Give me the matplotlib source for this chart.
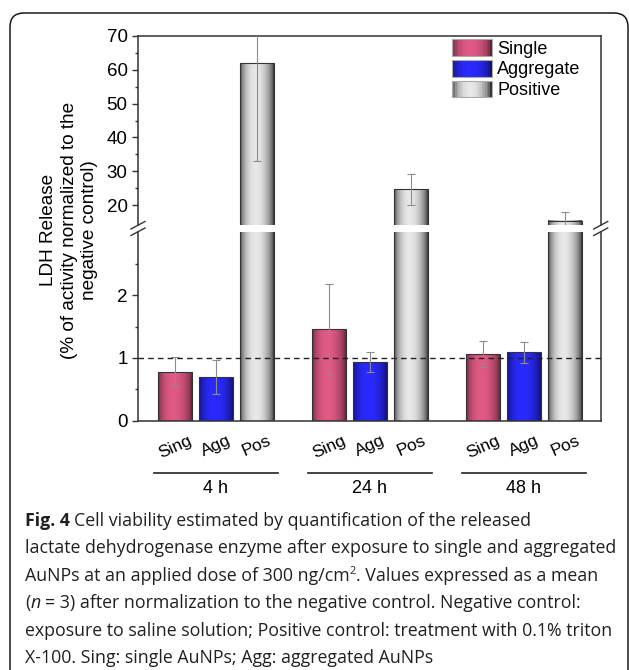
import numpy as np
import matplotlib
matplotlib.use("Agg")
import matplotlib.pyplot as plt
from matplotlib.patches import Rectangle, FancyBboxPatch
from matplotlib.legend_handler import HandlerBase
from matplotlib.lines import Line2D
from matplotlib.transforms import blended_transform_factory

plt.rcParams['font.family'] = ['Liberation Sans', 'DejaVu Sans']

# data
groups = ['4 h', '24 h', '48 h']
bar_labels = ['Sing', 'Agg', 'Pos']
series = ['Single', 'Aggregate', 'Positive']
sing = [0.78, 1.46, 1.06]
sing_err = [0.23, 0.72, 0.21]
agg = [0.70, 0.935, 1.09]
agg_err = [0.27, 0.16, 0.17]
pos = [62.0, 24.6, 15.35]
pos_err = [29.0, 4.5, 2.5]

# gradient edge/centre colours for each series
grad_cols = {
    'Single': ('#5e2436', '#e05a84'),
    'Aggregate': ('#10106e', '#2a2aff'),
    'Positive': ('#333333', '#e8e8e8'),
}

W, H = 629, 670
fig = plt.figure(figsize=(W / 100, H / 100), dpi=100)


def fx(px):
    return px / W


def fy(py):
    return 1 - py / H


def grad_rgb(name, n=64):
    c0 = np.array(matplotlib.colors.to_rgb(grad_cols[name][0]))
    c1 = np.array(matplotlib.colors.to_rgb(grad_cols[name][1]))
    t = np.linspace(0, 1, n)
    w = np.sin(np.pi * t ** 0.9) ** 0.6
    return c0[None, :] * (1 - w[:, None]) + c1[None, :] * w[:, None]


left, right = 138, 600.7
ax_top = fig.add_axes([fx(left), fy(225), fx(right) - fx(left), (225 - 36) / H])
ax_bot = fig.add_axes([fx(left), fy(420.7), fx(right) - fx(left), (420.7 - 232.3) / H])
ax_top.set_ylim(14.1, 70)
ax_bot.set_ylim(0, 3)

gap = 3.742
width = 0.82
xs = {name: [g * gap + i for g in range(len(groups))] for i, name in enumerate(series)}
vals = {'Single': sing, 'Aggregate': agg, 'Positive': pos}
errs = {'Single': sing_err, 'Aggregate': agg_err, 'Positive': pos_err}

for ax in (ax_top, ax_bot):
    lo, hi = ax.get_ylim()
    for name in series:
        bars = ax.bar(xs[name], vals[name], width, facecolor='none',
                      edgecolor='#333333', linewidth=0.8, zorder=3)
        g = grad_rgb(name)[None, :, :]
        for b in bars:
            x0, y0 = b.get_x(), b.get_y()
            y1 = y0 + b.get_height()
            ya, yb = max(y0, lo), min(y1, hi)
            if yb <= ya:
                continue
            ax.imshow(g, extent=[x0, x0 + b.get_width(), ya, yb],
                      aspect='auto', interpolation='bilinear', zorder=2)
        ax.errorbar(xs[name], vals[name], yerr=errs[name], fmt='none',
                    ecolor='#8c8c8c', elinewidth=0.8, capsize=2.6, capthick=0.8, zorder=4)
    ax.set_xlim(-0.89, 2 * gap + 2 + 0.865)
    ax.set_ylim(lo, hi)
    for s in ax.spines.values():
        s.set_color('#333333')
        s.set_linewidth(1.1)
    ax.tick_params(axis='y', which='major', direction='out', length=4.5, width=1,
                   labelsize=13.5, color='#333333', pad=3)
    ax.tick_params(axis='y', which='minor', direction='out', length=2.5, width=1,
                   color='#333333')

ax_top.set_yticks([20, 30, 40, 50, 60, 70])
ax_top.set_yticks([25, 35, 45, 55, 65], minor=True)
ax_top.spines['bottom'].set_visible(False)
ax_top.set_xticks([])

ax_bot.set_yticks([0, 1, 2])
ax_bot.set_yticks([0.5, 1.5, 2.5], minor=True)
ax_bot.spines['top'].set_visible(False)
ax_bot.axhline(1, color='#222222', lw=1, ls=(0, (4, 3)), zorder=5)

all_x = [x for g in range(len(groups)) for x in (xs[n][g] for n in series)]
ax_bot.set_xticks(all_x)
ax_bot.set_xticklabels(bar_labels * len(groups), rotation=24, fontsize=12.5)
ax_bot.tick_params(axis='x', length=0, pad=9)

# group lines and labels
tr = blended_transform_factory(ax_bot.transData, fig.transFigure)
for g, lab in enumerate(groups):
    a = xs['Single'][g] - 0.5
    b = xs['Positive'][g] + 0.5
    ax_bot.add_line(Line2D([a, b], [fy(473.3), fy(473.3)], transform=tr,
                           color='#222222', lw=1.2, clip_on=False))
    ax_bot.text(xs['Aggregate'][g], fy(488.5), lab, transform=tr, ha='center',
                va='center', fontsize=13)

# axis break marks
for c in (left, right):
    for (ya, yb) in ((229, 221.5), (235.5, 228)):
        fig.add_artist(Line2D([fx(c - 7), fx(c + 7)], [fy(ya), fy(yb)],
                              color='#333333', lw=1.0))

# y label
fig.text(fx(69), fy(230), 'LDH Release\n(% of activity normalized to the\nnegative control)',
         rotation=90, ha='center', va='center', fontsize=13.7, linespacing=1.28,
         multialignment='center')


# legend with gradient swatches
class GradHandler(HandlerBase):
    def __init__(self, name):
        super().__init__()
        self.name = name

    def create_artists(self, legend, orig_handle, xdescent, ydescent, width, height,
                       fontsize, trans):
        cols = grad_rgb(self.name, 24)
        n = len(cols)
        arts = []
        for k, c in enumerate(cols):
            arts.append(Rectangle((-xdescent + k * width / n, -ydescent), width / n + 0.3,
                                  height, facecolor=c, edgecolor='none', transform=trans))
        arts.append(Rectangle((-xdescent, -ydescent), width, height, facecolor='none',
                              edgecolor='#aaaaaa', lw=0.8, transform=trans))
        return arts


proxies = [Rectangle((0, 0), 1, 1) for _ in series]
leg = ax_top.legend(proxies, series, loc='upper left', bbox_to_anchor=(fx(451.7), fy(39)),
                    bbox_transform=fig.transFigure, frameon=False, fontsize=13,
                    borderpad=0, borderaxespad=0, handlelength=2.22, handleheight=1.06,
                    handletextpad=0.3, labelspacing=0.12,
                    handler_map={p: GradHandler(n) for p, n in zip(proxies, series)})
leg.set_zorder(10)

# rounded frame
fig.add_artist(FancyBboxPatch((0.10, -0.2), 6.18, 6.57 + 0.2,
                              boxstyle='round,pad=0,rounding_size=0.14',
                              transform=fig.dpi_scale_trans, facecolor='none',
                              edgecolor='#1a1a1a', lw=1.1))

# caption
cap_col = '#231f20'
cap_font = ['Open Sans', 'DejaVu Sans']
renderer = fig.canvas.get_renderer()


def text_w(s, size, **kw):
    t = fig.text(0, 0, s, fontsize=size, family=cap_font, **kw)
    w = t.get_window_extent(renderer).width
    t.remove()
    return w


ref_line = 'lactate dehydrogenase enzyme after exposure to single and aggregated'
cs = 12.0 * 589 / text_w(ref_line, 12.0)
space_w = text_w('a a', cs) - text_w('aa', cs)

lines = [
    [('Fig. 4', {'weight': 'bold'}), (' ', {}),
     ('Cell viability estimated by quantification of the released', {})],
    [(ref_line, {})],
    [('AuNPs at an applied dose of 300 ng/cm', {}), ('2', {'sup': True}),
     ('. Values expressed as a mean', {})],
    [('(', {}), ('n', {'style': 'italic'}),
     (' = 3) after normalization to the negative control. Negative control:', {})],
    [('exposure to saline solution; Positive control: treatment with 0.1% triton', {})],
    [('X-100. Sing: single AuNPs; Agg: aggregated AuNPs', {})],
]
base0, step = 526, 27.4
for i, segs in enumerate(lines):
    x = 25.0
    yb = base0 + i * step
    for s, kw in segs:
        if s == ' ':
            x += space_w
            continue
        kw = dict(kw)
        size = cs
        y = yb
        if kw.pop('sup', False):
            size = cs * 0.62
            y = yb - 7
        lead = len(s) - len(s.lstrip(' '))
        x += lead * space_w
        t = fig.text(fx(x), fy(y), s.lstrip(' '), fontsize=size, family=cap_font,
                     color=cap_col, va='baseline', ha='left', **kw)
        x += t.get_window_extent(renderer).width

fig.savefig('out.png', dpi=100)
